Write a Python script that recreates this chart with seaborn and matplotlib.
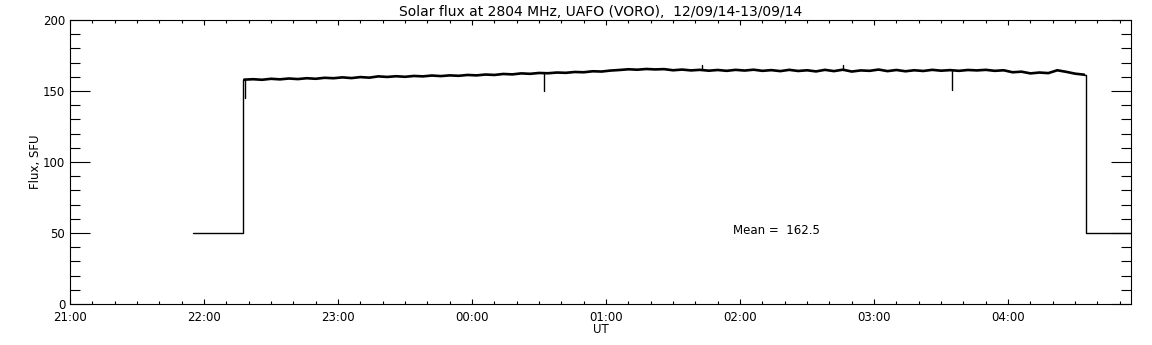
import numpy as np
import pandas as pd
import matplotlib
matplotlib.use("Agg")
import matplotlib.pyplot as plt
from matplotlib.ticker import MultipleLocator
import seaborn as sns

# time axis in minutes after 21:00 UT
off_level = 50
off_start = 55      # 21:55
on_start = 77.5     # 22:17.5
on_end = 455        # 04:35
axis_end = 475      # right edge of plot

# flux while the receiver is on (every 4 minutes)
flux_minutes = list(range(78, 455, 4))
flux_values = [
    158.0, 158.3, 157.9, 158.6, 158.2, 158.8, 158.4, 159.0, 158.6, 159.3,
    159.0, 159.6, 159.1, 159.8, 159.4, 160.3, 159.9, 160.4, 160.0, 160.6,
    160.3, 160.9, 160.5, 161.0, 160.7, 161.3, 161.0, 161.6, 161.3, 162.0,
    161.7, 162.4, 162.1, 162.7, 162.5, 163.0, 162.8, 163.4, 163.2, 163.9,
    163.7, 164.4, 164.8, 165.3, 165.0, 165.5, 165.2, 165.4, 164.6, 165.1,
    164.5, 164.9, 164.3, 164.8, 164.2, 164.9, 164.4, 165.0, 164.2, 164.7,
    164.0, 164.9, 164.1, 164.6, 163.8, 164.9, 164.0, 165.0, 163.7, 164.5,
    164.2, 165.1, 164.0, 164.8, 163.9, 164.6, 164.1, 164.9, 164.3, 164.7,
    164.2, 164.8, 164.5, 164.9, 164.2, 164.6, 163.2, 163.6, 162.4, 163.0,
    162.6, 164.6, 163.5, 162.2, 161.5,
]

# short spikes / dropouts
spike_minutes = [78.5, 212, 283, 346, 395]
spike_base = [158.0, 162.6, 164.8, 165.0, 164.5]
spike_peak = [145, 150, 168, 168, 151]

mean_flux = 162.5
hour_labels = ["21:00", "22:00", "23:00", "00:00", "01:00", "02:00", "03:00", "04:00"]

# receiver on: noisy band (drawn thick)
on_trace = pd.DataFrame({"t": flux_minutes, "flux": flux_values})
# receiver off + switching edges (thin)
edges = pd.DataFrame({
    "t": [off_start, on_start, on_start, flux_minutes[0],
          flux_minutes[-1], on_end, on_end, axis_end],
    "flux": [off_level, off_level, flux_values[0], flux_values[0],
             flux_values[-1], flux_values[-1], off_level, off_level],
    "part": [0, 0, 0, 0, 1, 1, 1, 1],
})
spikes = pd.DataFrame({
    "t": spike_minutes + spike_minutes,
    "flux": spike_base + spike_peak,
    "id": list(range(len(spike_minutes))) * 2,
})

sns.set_theme(style="ticks")
plt.rcParams["font.family"] = ["DejaVu Sans"]
plt.rcParams["font.size"] = 8.5
plt.rcParams["text.color"] = "black"
plt.rcParams["axes.labelcolor"] = "black"

fig = plt.figure(figsize=(11.52, 3.45), dpi=100)
ax = fig.add_axes([70 / 1152, 1 - 304 / 345, (1131 - 70) / 1152, (304 - 20) / 345])

sns.lineplot(data=on_trace, x="t", y="flux", estimator=None, sort=False,
             color="black", linewidth=1.9, ax=ax)
sns.lineplot(data=edges, x="t", y="flux", units="part", estimator=None, sort=False,
             color="black", linewidth=1.0, ax=ax)
sns.lineplot(data=spikes, x="t", y="flux", units="id", estimator=None, sort=False,
             color="black", linewidth=1.0, ax=ax)

ax.set_xlim(0, axis_end)
ax.set_ylim(0, 200)
ax.set_xticks(np.arange(0, 8) * 60)
ax.set_xticklabels(hour_labels)
ax.xaxis.set_minor_locator(MultipleLocator(10))
ax.yaxis.set_major_locator(MultipleLocator(50))
ax.yaxis.set_minor_locator(MultipleLocator(10))

ax.tick_params(which="both", direction="in", top=True, right=True,
               colors="black", labelsize=8.5, width=0.8)
ax.tick_params(axis="y", which="major", length=14.4, pad=3.5)
ax.tick_params(axis="y", which="minor", length=7.2)
ax.tick_params(axis="x", which="major", length=3.8, pad=5)
ax.tick_params(axis="x", which="minor", length=2.0)
for s in ax.spines.values():
    s.set_linewidth(0.8)
    s.set_color("black")

ax.set_xlabel("UT", fontsize=8.5, labelpad=-1)
ax.set_ylabel("Flux, SFU", fontsize=8.5, labelpad=1)
ax.set_title("Solar flux at 2804 MHz, UAFO (VORO),  12/09/14-13/09/14",
             fontsize=10, pad=3, color="black")
ax.text(297, 52, f"Mean =  {mean_flux}", fontsize=8.5, va="center", ha="left",
        color="black")

fig.savefig("out.png", dpi=100, facecolor="white")
